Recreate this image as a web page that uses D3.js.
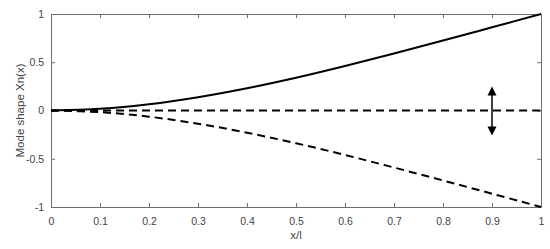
<!DOCTYPE html>
<html>
<head>
<meta charset="utf-8">
<script src="https://cdn.jsdelivr.net/npm/d3@7"></script>
<style>
  html, body { margin: 0; padding: 0; background: #fff; }
  svg { display: block; }
  text { font-family: "Liberation Sans", Arial, sans-serif; }
</style>
</head>
<body>
<svg id="chart" width="550" height="249"></svg>
<script>
// ---- data ----
const xPositions = [0, 0.1, 0.2, 0.3, 0.4, 0.5, 0.6, 0.7, 0.8, 0.9, 1.0];
const upperMode  = [0, 0.017, 0.064, 0.137, 0.230, 0.339, 0.461, 0.591, 0.725, 0.862, 1.0];
const neutralMode = [0, 0, 0, 0, 0, 0, 0, 0, 0, 0, 0];
const lowerMode  = [0, -0.017, -0.064, -0.137, -0.230, -0.339, -0.461, -0.591, -0.725, -0.862, -1.0];
const xTicks = [0, 0.1, 0.2, 0.3, 0.4, 0.5, 0.6, 0.7, 0.8, 0.9, 1];
const yTicks = [-1, -0.5, 0, 0.5, 1];
const arrowX = 0.9;
const arrowRange = [-0.26, 0.25];
const xLabel = "x/l";
const yLabel = "Mode shape Xn(x)";

// ---- layout ----
const W = 550, H = 249;
const m = { left: 51, right: 9, top: 14, bottom: 42 };
const svg = d3.select("#chart");
const x = d3.scaleLinear().domain([0, 1]).range([m.left, W - m.right]);
const y = d3.scaleLinear().domain([-1, 1]).range([H - m.bottom, m.top]);

const axisColor = "#6e6e6e";
const textColor = "#454545";
const fmt = d => String(d);

function styleAxis(g, showLabels) {
  g.select(".domain").attr("stroke", axisColor).attr("stroke-width", 1);
  g.selectAll(".tick line").attr("stroke", axisColor);
  g.selectAll(".tick text").attr("fill", textColor).attr("font-size", 10.5)
    .style("display", showLabels ? null : "none");
}

// bottom
svg.append("g").attr("transform", `translate(0,${y(-1)})`)
  .call(d3.axisBottom(x).tickValues(xTicks).tickFormat(fmt).tickSizeInner(-4).tickSizeOuter(0).tickPadding(11))
  .call(g => styleAxis(g, true));
// top
svg.append("g").attr("transform", `translate(0,${y(1)})`)
  .call(d3.axisTop(x).tickValues(xTicks).tickSizeInner(-4).tickSizeOuter(0))
  .call(g => styleAxis(g, false));
// left
svg.append("g").attr("transform", `translate(${x(0)},0)`)
  .call(d3.axisLeft(y).tickValues(yTicks).tickFormat(fmt).tickSizeInner(-4).tickSizeOuter(0).tickPadding(7))
  .call(g => styleAxis(g, true));
// right
svg.append("g").attr("transform", `translate(${x(1)},0)`)
  .call(d3.axisRight(y).tickValues(yTicks).tickSizeInner(-4).tickSizeOuter(0))
  .call(g => styleAxis(g, false));

svg.selectAll("g").attr("font-family", "Liberation Sans, Arial, sans-serif");

// ---- curves ----
const line = d3.line().x((d, i) => x(xPositions[i])).y(d => y(d)).curve(d3.curveCatmullRom);

svg.append("path").datum(upperMode).attr("d", line)
  .attr("fill", "none").attr("stroke", "#000").attr("stroke-width", 2);
svg.append("path").datum(neutralMode).attr("d", line)
  .attr("fill", "none").attr("stroke", "#000").attr("stroke-width", 2)
  .attr("stroke-dasharray", "8,5");
svg.append("path").datum(lowerMode).attr("d", line)
  .attr("fill", "none").attr("stroke", "#000").attr("stroke-width", 2)
  .attr("stroke-dasharray", "8,5");

// ---- double arrow ----
const ax = x(arrowX), ay0 = y(arrowRange[1]), ay1 = y(arrowRange[0]);
const hw = 4.5, hl = 9;
svg.append("line").attr("x1", ax).attr("x2", ax).attr("y1", ay0 + hl - 1).attr("y2", ay1 - hl + 1)
  .attr("stroke", "#000").attr("stroke-width", 1.5);
svg.append("path")
  .attr("d", `M${ax},${ay0} L${ax - hw},${ay0 + hl} L${ax + hw},${ay0 + hl} Z`)
  .attr("fill", "#000");
svg.append("path")
  .attr("d", `M${ax},${ay1} L${ax - hw},${ay1 - hl} L${ax + hw},${ay1 - hl} Z`)
  .attr("fill", "#000");

// ---- labels ----
svg.append("text").attr("x", x(0.5)).attr("y", 239).attr("text-anchor", "middle")
  .attr("font-size", 11.5).attr("fill", textColor).text(xLabel);
svg.append("text").attr("transform", `translate(24,${y(0)}) rotate(-90)`)
  .attr("text-anchor", "middle").attr("font-size", 11.5).attr("fill", textColor).text(yLabel);
</script>
</body>
</html>
